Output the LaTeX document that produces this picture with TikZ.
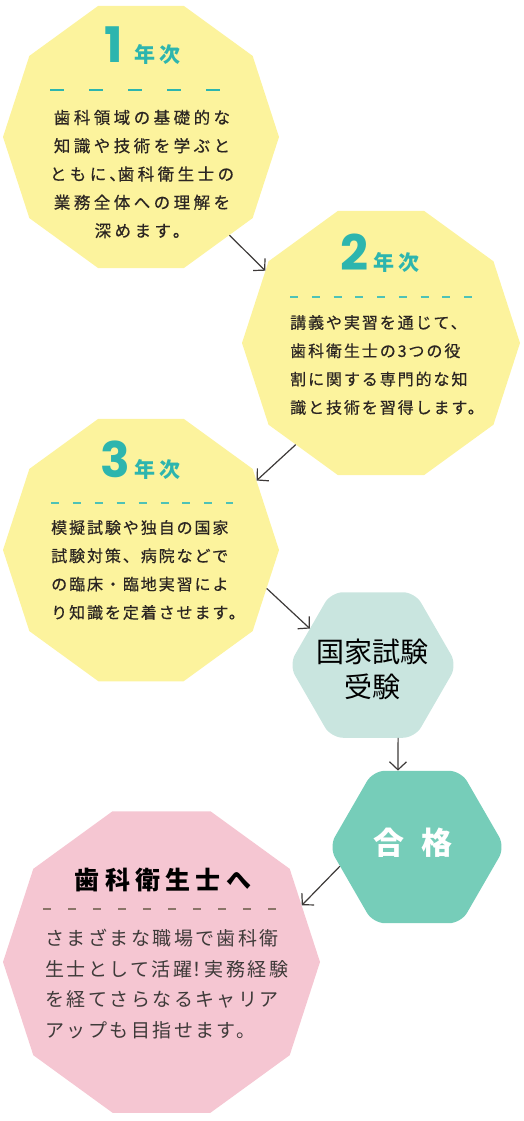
\documentclass[tikz,border=0pt]{standalone}
\usepackage{fontspec}
\usepackage{tikz}
\usetikzlibrary{arrows.meta,shapes.geometric}
\setmainfont{Noto Sans CJK JP}
\newfontfamily\jp{Noto Sans CJK JP}
\newfontfamily\jphead[LetterSpace=21]{Noto Sans CJK JP}
\newfontfamily\jpsp[LetterSpace=21, FakeBold=0.5]{Noto Sans CJK JP}
\newfontfamily\jpmid[LetterSpace=12, FakeBold=0.5]{Noto Sans CJK JP}
\newfontfamily\jpbody[LetterSpace=13]{Noto Sans CJK JP}
\newfontfamily\num{Poppins}
\definecolor{lemon}{HTML}{FCF39D}
\definecolor{blush}{HTML}{F5C6D2}
\definecolor{mist}{HTML}{C9E5DF}
\definecolor{mint}{HTML}{76CDB9}
\definecolor{sea}{HTML}{2DB5AE}
\definecolor{sealight}{HTML}{4EC2B6}
\definecolor{ink}{HTML}{2B2522}
\definecolor{arrowgray}{HTML}{3E3A39}
\definecolor{dashbrown}{HTML}{8A7468}

\begin{document}
\begin{tikzpicture}[x=1pt, y=-1pt]
\tikzset{deca/.style = {shape=regular polygon, regular polygon sides=10, draw=none, inner sep=0pt}}
\tikzset{hexa/.style = {shape=regular polygon, regular polygon sides=6, draw=none, inner sep=0pt, rounded corners=12pt}}
\tikzset{flow/.style = {-{Straight Barb[length=8pt,width=17pt]}, line width=1.2pt, draw=arrowgray}}
\tikzset{rule/.style = {line width=1.8pt}}
\tikzset{body/.style = {text=ink, inner sep=0pt}}
\tikzset{digit/.style = {text=sea, anchor=base, inner sep=0pt, font=\fontsize{49}{49}\selectfont\num\bfseries}}
\tikzset{year/.style = {text=sea, anchor=base west, inner sep=0pt, font=\fontsize{21}{21}\selectfont\jphead\bfseries}}

\useasboundingbox (0,0) rectangle (523,1121);

% boxes
\node[deca, fill=lemon, minimum size=276pt] (y1) at (141,137) {};
\node[deca, fill=lemon, minimum size=278pt] (y2) at (381,343) {};
\node[deca, fill=lemon, minimum size=276pt] (y3) at (141,550) {};
\node[hexa, fill=mist, minimum size=168pt] (exam) at (373,665) {};
\node[hexa, fill=mint, minimum size=176pt] (pass) at (417,847) {};
\node[deca, fill=blush, minimum size=317pt] (goal) at (161.5,962) {};

% 1st year
\node[digit] (n1) at (114,63) {1};
\node[year] (k1) at (134,63) {年次};
\draw[rule, draw=sea, dash pattern=on 14pt off 25pt] (50,90) -- (220,90);
\node[body, font=\fontsize{16.5}{28.3}\selectfont\jpsp, align=center] (b1) at (142,174) {歯科領域の基礎的な\\知識や技術を学ぶと\\ともに、\kern-8pt 歯科衛生士の\\業務全体への理解を\\深めます。};

% 2nd year
\node[digit] (n2) at (354,270) {2};
\node[year] (k2) at (373,270) {年次};
\draw[rule, draw=sealight, dash pattern=on 8pt off 13.75pt] (290,297) -- (472,297);
\node[body, font=\fontsize{16}{28.3}\selectfont\jpmid, align=left, anchor=west] (b2) at (290,365) {講義や実習を通じて、\\歯科衛生士の3つの役\\割に関する専門的な知\\識と技術を習得します。};

% 3rd year
\node[digit] (n3) at (115,477) {3};
\node[year] (k3) at (134,477) {年次};
\draw[rule, draw=sealight, dash pattern=on 8pt off 13.9pt] (51,503) -- (233,503);
\node[body, font=\fontsize{16}{28.3}\selectfont\jpmid, align=left, anchor=west] (b3) at (51,570) {模擬試験や独自の国家\\試験対策、病院などで\\の臨床・臨地実習によ\\り知識を定着させます。};

% exam and pass
\node[font=\fontsize{28}{35}\selectfont\jp, align=center, text=black] (e1) at (372,669) {国家試験\\受験};
\node[text=white, font=\fontsize{31}{31}\selectfont\jp\bfseries] (p1) at (413,843) {合\hspace{17pt}格};

% goal
\node[text=black, font=\fontsize{25}{25}\selectfont\jphead\bfseries] (g1) at (163,880) {歯科衛生士へ};
\draw[line width=1.3pt, draw=dashbrown, dash pattern=on 8pt off 17pt] (43,909) -- (276,909);
\node[body, text=arrowgray, font=\fontsize{19}{30.7}\selectfont\jpbody, align=left, anchor=west] (g2) at (45,984) {さまざまな職場で歯科衛\\生士として活躍\kern-.25em！\kern-.1em 実務経験\\を経てさらなるキャリア\\アップも目指せます。};

%edges
\draw[flow] (y1.-48) -- (y2.148);
\draw[flow] (y2.230) -- (y3.31);
\draw[flow] (y3.-17) -- (exam.150);
\draw[flow] (exam.-71) -- (pass.104);
\draw[flow] (pass.194) -- (goal.22);
\end{tikzpicture}
\end{document}
